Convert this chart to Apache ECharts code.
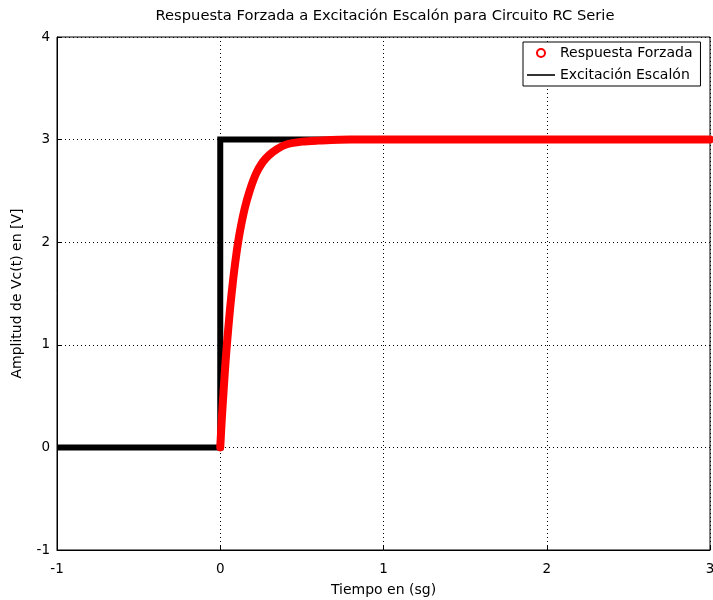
<!DOCTYPE html>
<html><head><meta charset="utf-8">
<script src="https://cdn.jsdelivr.net/npm/echarts@6/dist/echarts.min.js"></script>
<style>html,body{margin:0;padding:0;background:#fff}#c{width:713px;height:600px}</style>
</head><body><div id="c"></div>
<script>
// Data
const stepT = [-1, 0, 0, 3];
const stepV = [0, 0, 3, 3];
const respT = [0, 0.01, 0.02, 0.03, 0.04, 0.06, 0.08, 0.1, 0.12, 0.15, 0.18, 0.22, 0.26, 0.3, 0.35, 0.4, 0.5, 0.6, 0.8, 1, 1.5, 2, 2.5, 3];
const respV = [0, 0.29, 0.54, 0.78, 0.99, 1.35, 1.65, 1.90, 2.10, 2.33, 2.50, 2.67, 2.78, 2.85, 2.91, 2.95, 2.98, 2.99, 3.0, 3.0, 3.0, 3.0, 3.0, 3.0];
const xTicks = [-1, 0, 1, 2, 3];
const yTicks = [-1, 0, 1, 2, 3, 4];

const FONT = 'DejaVu Sans';
const chart = echarts.init(document.getElementById('c'), null, {renderer: 'canvas'});
const zip = (a, b) => a.map((v, i) => [v, b[i]]);
chart.setOption({
  animation: false,
  backgroundColor: '#fff',
  title: {
    text: 'Respuesta Forzada a Excitación Escalón para Circuito RC Serie',
    left: 380, top: 4, textAlign: 'center',
    textStyle: {fontFamily: FONT, fontSize: 14.7, fontWeight: 'normal', color: '#000'}
  },
  grid: {left: 57, right: 3, top: 37, bottom: 50, show: true, borderColor: '#000', borderWidth: 1,
    containLabel: false, outerBoundsMode: 'none'},
  legend: {
    left: 523, top: 42, orient: 'vertical', align: 'left',
    backgroundColor: '#fff', borderColor: '#000', borderWidth: 1, padding: [4, 8, 4, 4],
    itemGap: 8, itemWidth: 28, itemHeight: 8,
    textStyle: {fontFamily: FONT, fontSize: 14, color: '#000', padding: [0, 0, 0, 0]},
    data: [
      {name: 'Respuesta Forzada', icon: 'emptyCircle'},
      {name: 'Excitación Escalón', icon: 'path://M0,3.2 L28,3.2 L28,4.8 L0,4.8 Z', itemStyle: {color: '#000', opacity: 1}}
    ]
  },
  xAxis: {
    type: 'value', min: -1, max: 3, interval: 1,
    name: 'Tiempo en (sg)', nameLocation: 'middle', nameGap: 33,
    nameTextStyle: {fontFamily: FONT, fontSize: 14, color: '#000'},
    axisLine: {show: true, onZero: false, lineStyle: {color: '#000'}},
    axisTick: {show: true, inside: true, length: 4, lineStyle: {color: '#000'}},
    axisLabel: {fontFamily: FONT, fontSize: 13.5, color: '#000', margin: 12,
      formatter: v => xTicks.includes(v) ? String(v) : ''},
    splitLine: {show: true, lineStyle: {color: '#000', type: [1, 3], width: 1}}
  },
  yAxis: {
    type: 'value', min: -1, max: 4, interval: 1,
    name: 'Amplitud de Vc(t) en [V]', nameLocation: 'middle', nameGap: 33, nameRotate: 90,
    nameTextStyle: {fontFamily: FONT, fontSize: 14, color: '#000'},
    axisLine: {show: true, onZero: false, lineStyle: {color: '#000'}},
    axisTick: {show: true, inside: true, length: 4, lineStyle: {color: '#000'}},
    axisLabel: {fontFamily: FONT, fontSize: 13.5, color: '#000', margin: 7,
      formatter: v => yTicks.includes(v) ? String(v) : ''},
    splitLine: {show: true, lineStyle: {color: '#000', type: [1, 3], width: 1}}
  },
  series: [
    {
      name: 'Excitación Escalón', type: 'line', data: zip(stepT, stepV),
      showSymbol: false, symbol: 'none', z: 2,
      lineStyle: {color: '#000', width: 6, cap: 'butt', join: 'miter'},
      itemStyle: {color: '#000'}
    },
    {
      name: 'Respuesta Forzada', type: 'line', data: zip(respT, respV), smooth: 0.3,
      showSymbol: false, symbol: 'emptyCircle', symbolSize: 8, z: 3,
      lineStyle: {color: '#ff0000', width: 8, cap: 'round', join: 'round'},
      itemStyle: {color: '#ff0000', borderColor: '#ff0000', borderWidth: 2}
    }
  ]
});
</script></body></html>
